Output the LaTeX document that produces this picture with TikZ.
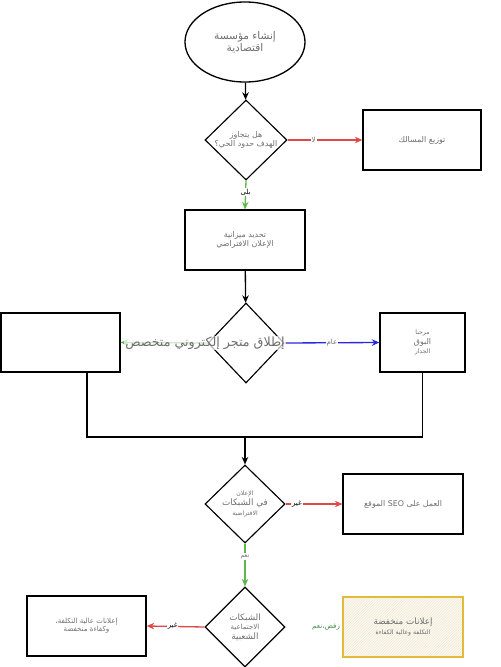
\documentclass[tikz,border=0pt]{standalone}
\usepackage{fontspec}
\usepackage{xcolor}
\usepackage{tikz}
\usetikzlibrary{shapes.geometric, arrows.meta, positioning, patterns}
\TeXXeTstate=1
\newfontfamily\arabicfont[Script=Arabic]{DejaVu Sans}
\newcommand{\artxt}[1]{{\arabicfont\beginR #1\endR}}
\definecolor{inkgrey}{RGB}{110,110,110}
\definecolor{noline}{RGB}{222,72,72}
\definecolor{yesline}{RGB}{92,184,72}
\definecolor{publine}{RGB}{40,40,225}
\definecolor{goodedge}{RGB}{228,186,58}
\definecolor{goodhatch}{RGB}{236,226,204}
\definecolor{goodfill}{RGB}{253,250,240}
\definecolor{labelgreen}{RGB}{70,140,70}
\tikzset{
    box/.style={rectangle, draw, line width=1.5pt, text centered, align=center, text=inkgrey, font=\small, inner sep=2pt},
    start/.style={ellipse, draw, line width=1.5pt, minimum width=4.8cm, minimum height=3.2cm, text centered, align=center, text=inkgrey, font=\large},
    decision/.style={diamond, draw, line width=1.3pt, inner sep=0pt, minimum width=3.2cm, minimum height=3.2cm},
    dtext/.style={text=inkgrey, align=center, font=\small, inner sep=1pt},
    good/.style={box, draw=goodedge, preaction={fill=goodfill}, pattern=north east lines, pattern color=goodhatch},
    flow/.style={->, line width=1.5pt, >={Stealth[length=3mm, width=2.6mm]}},
    edgelabel/.style={fill=white, inner sep=1pt, font=\footnotesize}
}

\begin{document}
\begin{tikzpicture}[
    x=0.04cm, y=-0.04cm,
    noarrow/.style={flow, noline},
    yesarrow/.style={flow, yesline},
    pubarrow/.style={flow, publine}
]
    \useasboundingbox (0,0) rectangle (500,667);

    % Start
    \node[start] (start) at (245,42) {\artxt{إنشاء مؤسسة}\\\artxt{اقتصادية}};

    % Does the target go beyond the neighbourhood
    \node[decision, minimum width=3.28cm] (reach) at (246,140) {};
    \node[dtext] (reachtxt) at (reach) {\artxt{هل يتجاوز}\\\artxt{الهدف حدود الحي؟}};
    \node[box, minimum width=4.72cm, minimum height=2.4cm] (channels) at (422,140) {\artxt{توزيع المسالك}};
    \node[box, minimum width=4.8cm, minimum height=2.4cm] (budget) at (245,240) {\artxt{تحديد ميزانية}\\\artxt{الإعلان الافتراضي}};

    % Online shop
    \node[decision, minimum width=3.04cm] (shop) at (246,343) {};
    \node[box, minimum width=4.76cm, minimum height=2.36cm] (niche) at (60.5,342.5) {};
    \node[box, minimum width=3.4cm, minimum height=2.36cm] (public) at (422.5,342.5) {{\scriptsize\artxt{مرحبا}}\\\artxt{البوق}\\{\scriptsize\artxt{الجدار}}};

    % Virtual networks
    \node[decision, minimum height=3.12cm] (virtual) at (245,504) {};
    \node[dtext] (virtualtxt) at (virtual) {{\scriptsize\artxt{الإعلان}}\\{\normalsize\artxt{في الشبكات}}\\{\scriptsize\artxt{الافتراضية}}};
    \node[box, minimum width=4.8cm, minimum height=2.4cm] (seo) at (403,504) {\artxt{العمل على \beginL SEO\endL{} الموقع}};

    % Popular social networks
    \node[decision] (social) at (245,627) {};
    \node[dtext] (socialtxt) at (social) {{\normalsize\artxt{الشبكات}}\\{\footnotesize\artxt{الاجتماعية}}\\{\normalsize\artxt{الشعبية}}};
    \node[box, font=\footnotesize, minimum width=4.76cm, minimum height=2.4cm] (costly) at (86.5,626) {\artxt{إعلانات عالية التكلفة،}\\\artxt{وكفاءة منخفضة}};
    \node[good, minimum width=4.8cm, minimum height=2.4cm] (cheap) at (403,627) {{\normalsize\artxt{إعلانات منخفضة}}\\{\scriptsize\artxt{التكلفة وعالية الكفاءة}}};
    \node[text=labelgreen, font=\footnotesize, anchor=east] (refuse) at (343,627) {\artxt{رفض،نعم}};

    % Join points
    \coordinate (jleft) at (87,437);
    \coordinate (jright) at (422.5,437);
    \coordinate (jmid) at (245,437);

    % Connections
    \draw[flow] (start) -- (reach);
    \draw[noarrow] (reach.east) -- node[edgelabel, pos=0.35, text=inkgrey] {\artxt{لا}} (channels.west);
    \draw[yesarrow] (reach.south) -- node[edgelabel, pos=0.4, text=black] {\artxt{بلى}} (budget.north);
    \draw[flow] (budget) -- (shop);
    \draw[yesarrow] (shop.west) -- (niche.east);
    \draw[pubarrow] (shop.east) -- node[edgelabel, text=inkgrey] {\artxt{عام}} (public.west);
    \draw[line width=1.5pt] (jleft |- niche.south) -- (jleft) -- (jright) -- (public.south);
    \draw[flow] (jmid) -- (virtual.north);
    \draw[noarrow] (virtual.east) -- node[edgelabel, pos=0.2, text=black] {\artxt{غير}} (seo.west);
    \draw[yesarrow] (virtual.south) -- node[edgelabel, pos=0.3, text=inkgrey, font=\scriptsize] {\artxt{نعم}} (social.north);
    \draw[noarrow] (social.west) -- node[edgelabel, pos=0.55, text=black] {\artxt{غير}} (costly.east);

    % Shop label on top
    \node[text=inkgrey, font=\Large, fill=white, fill opacity=0.7, text opacity=1, inner sep=1pt] (shoptxt) at (205,343) {\artxt{إطلاق متجر إلكتروني متخصص}};
\end{tikzpicture}
\end{document}
